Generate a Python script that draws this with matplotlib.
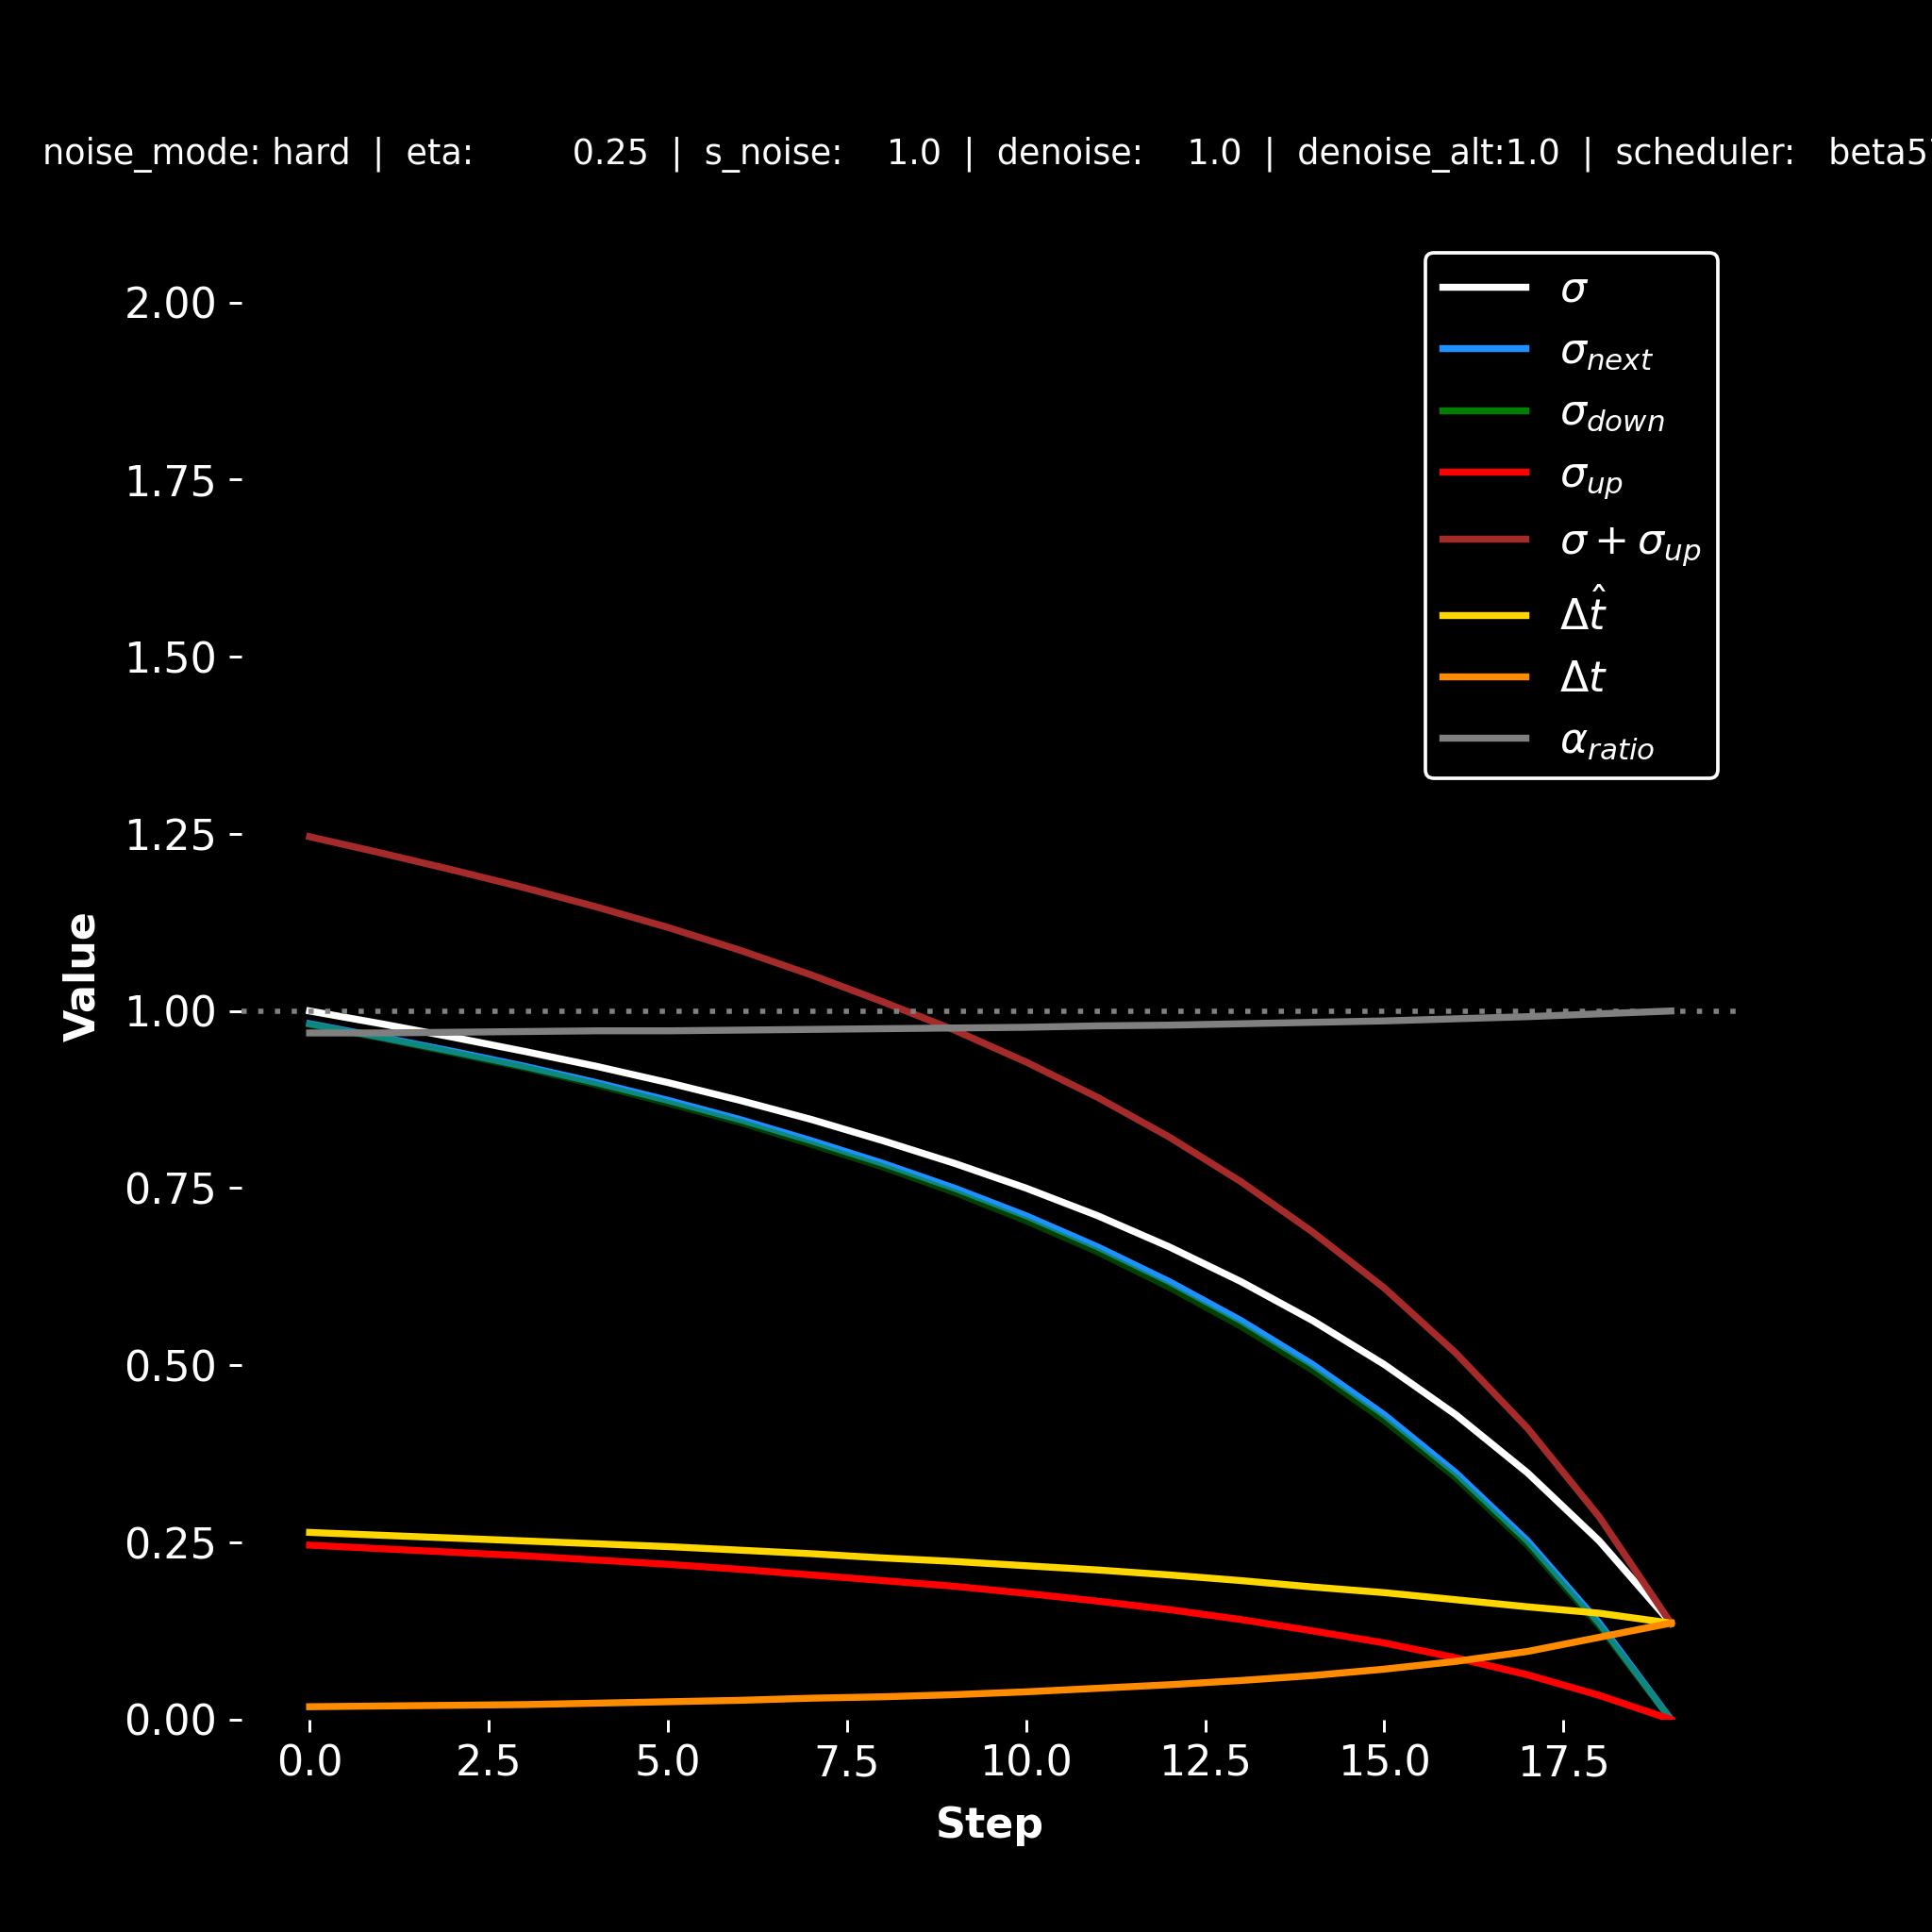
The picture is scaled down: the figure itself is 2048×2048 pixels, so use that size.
import matplotlib.pyplot as plt

# step index
steps = list(range(20))

# values
sigma = [1.000, 0.982, 0.963, 0.943, 0.922, 0.899, 0.874, 0.847, 0.817, 0.785,
         0.750, 0.711, 0.667, 0.618, 0.563, 0.501, 0.430, 0.348, 0.252, 0.136]
sigma_next = [0.982, 0.963, 0.943, 0.922, 0.899, 0.874, 0.847, 0.817, 0.785, 0.750,
              0.711, 0.667, 0.618, 0.563, 0.501, 0.430, 0.348, 0.252, 0.136, 0.000]
sigma_down = [0.981, 0.962, 0.941, 0.920, 0.896, 0.870, 0.843, 0.812, 0.780, 0.744,
              0.704, 0.660, 0.610, 0.555, 0.493, 0.422, 0.341, 0.246, 0.132, 0.000]
sigma_up = [0.246, 0.241, 0.236, 0.231, 0.225, 0.219, 0.212, 0.204, 0.196, 0.188,
            0.178, 0.167, 0.155, 0.141, 0.125, 0.108, 0.087, 0.063, 0.034, 0.000]
sigma_plus_up = [1.246, 1.223, 1.199, 1.174, 1.147, 1.118, 1.086, 1.051, 1.013, 0.973,
                 0.928, 0.878, 0.822, 0.759, 0.688, 0.609, 0.517, 0.411, 0.286, 0.136]
dt_hat = [0.264, 0.260, 0.256, 0.252, 0.248, 0.244, 0.239, 0.234, 0.228, 0.223,
          0.217, 0.211, 0.204, 0.196, 0.187, 0.179, 0.169, 0.159, 0.150, 0.136]
dt = [0.018, 0.019, 0.020, 0.021, 0.023, 0.025, 0.027, 0.030, 0.032, 0.035,
      0.039, 0.044, 0.049, 0.055, 0.062, 0.071, 0.082, 0.096, 0.116, 0.136]
alpha_ratio = [0.969, 0.969, 0.970, 0.971, 0.972, 0.972, 0.973, 0.974, 0.975, 0.976,
               0.977, 0.979, 0.980, 0.982, 0.984, 0.986, 0.989, 0.992, 0.996, 1.000]

# settings line at the top
title = ("noise_mode: hard  |  eta:         0.25  |  s_noise:    1.0  |  "
         "denoise:    1.0  |  denoise_alt:1.0  |  scheduler:   beta57")

plt.style.use('dark_background')
fig, ax = plt.subplots(figsize=(7.7, 7.7), dpi=266)
fig.patch.set_facecolor('black')
ax.set_facecolor('black')

ax.plot(steps, sigma, color='white', lw=2, label=r'$\sigma$')
ax.plot(steps, sigma_next, color='dodgerblue', lw=2, label=r'$\sigma_{next}$')
ax.plot(steps, sigma_down, color='green', lw=2, alpha=0.5, label=r'$\sigma_{down}$')
ax.plot(steps, sigma_up, color='red', lw=2, label=r'$\sigma_{up}$')
ax.plot(steps, sigma_plus_up, color='brown', lw=2, label=r'$\sigma + \sigma_{up}$')
ax.plot(steps, dt_hat, color='gold', lw=2, label=r'$\Delta \hat{t}$')
ax.plot(steps, dt, color='darkorange', lw=2, label=r'$\Delta t$')
ax.plot(steps, alpha_ratio, color='gray', lw=2, label=r'$\alpha_{ratio}$')
ax.axhline(1.0, color='gray', lw=1.5, linestyle=(0, (1, 2.2)))

ax.set_ylim(0, 2.1)
ax.set_xlabel('Step', fontsize=12, fontweight='bold', color='white', labelpad=6)
ax.set_ylabel('Value', fontsize=12, fontweight='bold', color='white', labelpad=6)
ax.tick_params(colors='white', labelsize=12)
for s in ax.spines.values():
    s.set_visible(False)

leg = ax.legend(loc='upper right', fontsize=12, facecolor='black',
                edgecolor='white', framealpha=1)
for h in leg.legend_handles:
    h.set_alpha(1)

fig.text(0.022, 0.915, title, fontsize=9.9, color='white', ha='left', va='baseline')

plt.savefig('out.png', dpi=266, facecolor='black')
